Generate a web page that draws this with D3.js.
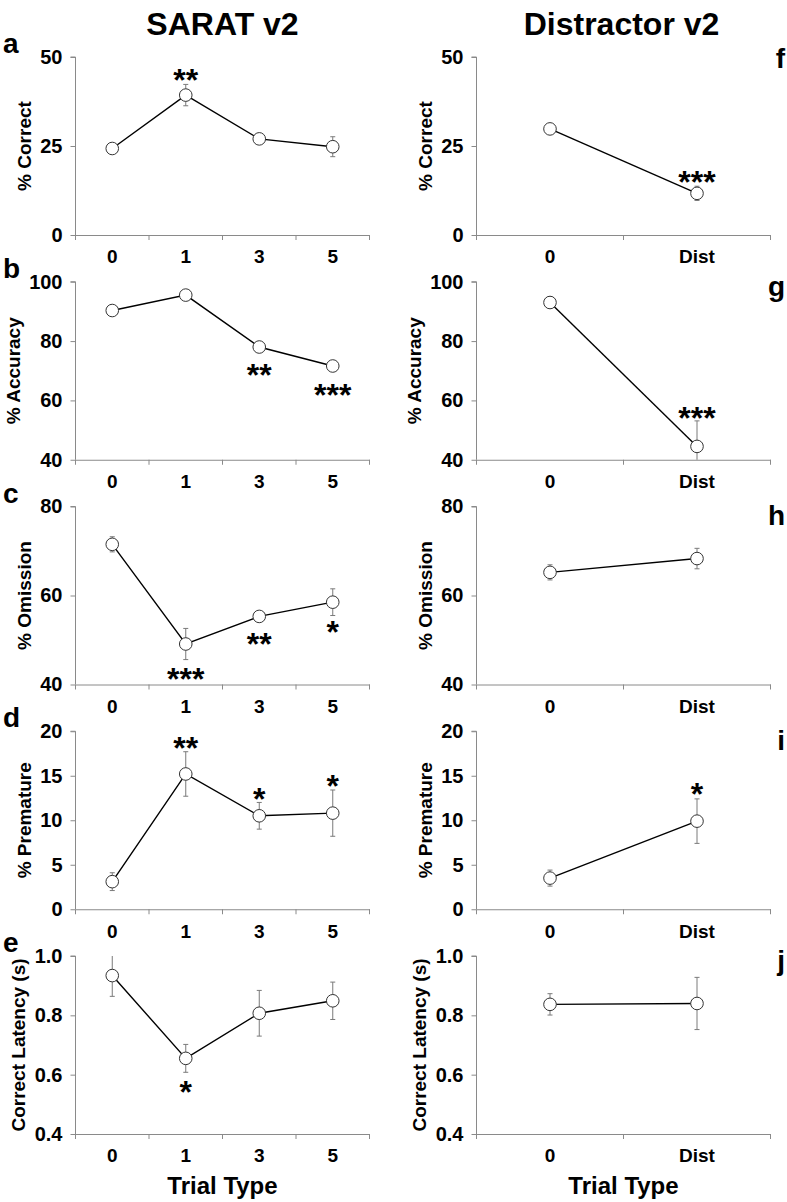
<!DOCTYPE html>
<html>
<head>
<meta charset="utf-8">
<script src="https://cdn.jsdelivr.net/npm/d3@7/dist/d3.min.js"></script>
<style>
  html, body { margin: 0; padding: 0; background: #fff; }
  svg { display: block; font-family: Arial, "Liberation Sans", sans-serif; }
  text { font-weight: bold; fill: #000; }
</style>
</head>
<body>
<svg id="chart" width="787" height="1202"></svg>
<script>
// ---------- data ----------
const saratCats = ["0", "1", "3", "5"];
const distCats = ["0", "Dist"];

const saratCorrect = [24.3, 39.3, 27.0, 24.8];
const saratCorrectErr = [1.0, 3.0, 1.2, 2.8];
const saratAccuracy = [90.3, 95.5, 78.0, 71.6];
const saratAccuracyErr = [1.2, 1.0, 1.5, 1.5];
const saratOmission = [71.5, 49.1, 55.3, 58.5];
const saratOmissionErr = [1.7, 3.5, 1.0, 3.0];
const saratPremature = [3.1, 15.2, 10.5, 10.8];
const saratPrematureErr = [1.0, 2.5, 1.5, 2.6];
const saratLatency = [0.934, 0.655, 0.807, 0.849];
const saratLatencyErr = [0.07, 0.047, 0.077, 0.063];

const distCorrect = [29.8, 11.7];
const distCorrectErr = [0.8, 2.0];
const distAccuracy = [93.0, 44.5];
const distAccuracyErr = [2.0, 8.6];
const distOmission = [65.2, 68.3];
const distOmissionErr = [1.7, 2.3];
const distPremature = [3.5, 9.9];
const distPrematureErr = [0.9, 2.5];
const distLatency = [0.837, 0.840];
const distLatencyErr = [0.036, 0.088];

// significance stars: [category, label, y position in data units]
const saratCorrectStars = [["1", "**", 45.5]];
const saratAccuracyStars = [["3", "**", 71.0], ["5", "***", 64.3]];
const saratOmissionStars = [["1", "***", 42.7], ["3", "**", 50.6], ["5", "*", 53.3]];
const saratPrematureStars = [["1", "**", 18.9], ["3", "*", 13.2], ["5", "*", 14.6]];
const saratLatencyStars = [["1", "*", 0.565]];
const distCorrectStars = [["Dist", "***", 16.9]];
const distAccuracyStars = [["Dist", "***", 56.3]];
const distOmissionStars = [];
const distPrematureStars = [["Dist", "*", 13.7]];
const distLatencyStars = [];

const correctTicks = [0, 25, 50];
const accuracyTicks = [40, 60, 80, 100];
const omissionTicks = [40, 60, 80];
const prematureTicks = [0, 5, 10, 15, 20];
const latencyTicks = [0.4, 0.6, 0.8, 1.0];

const yLabels = ["% Correct", "% Accuracy", "% Omission", "% Premature", "Correct Latency (s)"];
const columnTitles = ["SARAT v2", "Distractor v2"];
const xTitle = "Trial Type";
const leftLetters = ["a", "b", "c", "d", "e"];
const rightLetters = ["f", "g", "h", "i", "j"];

// ---------- layout ----------
const svg = d3.select("#chart");
const rowTop = i => 57 + i * 224.75;
const panelH = 178;
const cols = [{x0: 75.5, x1: 369.5}, {x0: 476.5, x1: 770.5}];
const rightLetterDy = [11, 14, 18, 19, 14];
const FONT = "Arial, 'Liberation Sans', sans-serif";

const rows = [
  {ticks: correctTicks, fmt: d3.format("d"), label: yLabels[0],
   left: [saratCorrect, saratCorrectErr, saratCorrectStars], right: [distCorrect, distCorrectErr, distCorrectStars]},
  {ticks: accuracyTicks, fmt: d3.format("d"), label: yLabels[1],
   left: [saratAccuracy, saratAccuracyErr, saratAccuracyStars], right: [distAccuracy, distAccuracyErr, distAccuracyStars]},
  {ticks: omissionTicks, fmt: d3.format("d"), label: yLabels[2],
   left: [saratOmission, saratOmissionErr, saratOmissionStars], right: [distOmission, distOmissionErr, distOmissionStars]},
  {ticks: prematureTicks, fmt: d3.format("d"), label: yLabels[3],
   left: [saratPremature, saratPrematureErr, saratPrematureStars], right: [distPremature, distPrematureErr, distPrematureStars]},
  {ticks: latencyTicks, fmt: d3.format(".1f"), label: yLabels[4],
   left: [saratLatency, saratLatencyErr, saratLatencyStars], right: [distLatency, distLatencyErr, distLatencyStars]}
];

const axisColor = "#8a8a8a";

function drawPanel(ri, ci) {
  const row = rows[ri];
  const col = cols[ci];
  const cats = ci === 0 ? saratCats : distCats;
  const [vals, errs, stars] = ci === 0 ? row.left : row.right;
  const top = rowTop(ri), bottom = top + panelH;
  const y = d3.scaleLinear().domain(d3.extent(row.ticks)).range([bottom, top]);
  const x = d3.scaleBand().domain(cats).range([col.x0, col.x1]).padding(0);
  const cx = c => x(c) + x.bandwidth() / 2;
  const g = svg.append("g");

  // y axis
  const ya = g.append("g").attr("transform", `translate(${col.x0},0)`)
    .call(d3.axisLeft(y).tickValues(row.ticks).tickFormat(row.fmt).tickSize(5).tickPadding(8));
  ya.select(".domain").attr("stroke", axisColor).attr("d", `M-5,${y(row.ticks[row.ticks.length-1])}H0V${bottom}`);
  ya.selectAll(".tick line").attr("stroke", axisColor);
  ya.selectAll(".tick text").attr("font-size", 20).attr("font-weight", "bold")
    .attr("font-family", FONT).attr("fill", "#000");

  // x axis
  const xa = g.append("g").attr("transform", `translate(0,${bottom})`)
    .call(d3.axisBottom(x).tickSize(0).tickPadding(15));
  xa.select(".domain").attr("stroke", axisColor);
  xa.selectAll(".tick text").attr("font-size", 19).attr("font-weight", "bold")
    .attr("font-family", FONT).attr("fill", "#000");
  const bounds = cats.map(c => x(c)).concat([col.x1]);
  xa.selectAll(".bnd").data(bounds).join("line").attr("class", "bnd")
    .attr("x1", d => d).attr("x2", d => d).attr("y1", 0).attr("y2", 5)
    .attr("stroke", axisColor);

  // y title
  const tickW = d3.max(ya.selectAll(".tick text").nodes(), n => n.getBBox().width);
  const titleX = col.x0 - 13 - tickW - 9;
  g.append("text").attr("transform", `translate(${titleX},${(top + bottom) / 2}) rotate(-90)`)
    .attr("text-anchor", "middle").attr("font-size", 19).text(row.label);

  // error bars
  const [d0, d1] = y.domain();
  const eb = g.append("g").attr("stroke", "#7a7a7a").attr("stroke-width", 1);
  cats.forEach((c, i) => {
    const hi = Math.min(vals[i] + errs[i], d1), lo = Math.max(vals[i] - errs[i], d0);
    eb.append("line").attr("x1", cx(c)).attr("x2", cx(c)).attr("y1", y(hi)).attr("y2", y(lo));
    if (vals[i] + errs[i] <= d1)
      eb.append("line").attr("x1", cx(c) - 2.5).attr("x2", cx(c) + 2.5).attr("y1", y(hi)).attr("y2", y(hi));
    if (vals[i] - errs[i] >= d0)
      eb.append("line").attr("x1", cx(c) - 2.5).attr("x2", cx(c) + 2.5).attr("y1", y(lo)).attr("y2", y(lo));
  });

  // line
  const line = d3.line().x((d, i) => cx(cats[i])).y(d => y(d));
  g.append("path").datum(vals).attr("d", line).attr("fill", "none")
    .attr("stroke", "#000").attr("stroke-width", 1.4);

  // points
  g.selectAll(".pt").data(vals).join("circle").attr("class", "pt")
    .attr("cx", (d, i) => cx(cats[i])).attr("cy", d => y(d)).attr("r", 6.3)
    .attr("fill", "#fff").attr("stroke", "#333").attr("stroke-width", 1);

  // stars
  g.selectAll(".star").data(stars).join("text").attr("class", "star")
    .attr("x", d => cx(d[0])).attr("y", d => y(d[2]) + 18)
    .attr("text-anchor", "middle").attr("font-size", 32).text(d => d[1]);

  // panel letters
  if (ci === 0) {
    g.append("text").attr("x", 3).attr("y", top - 4).attr("font-size", 28).text(leftLetters[ri]);
  } else {
    g.append("text").attr("x", 785).attr("y", top + rightLetterDy[ri]).attr("text-anchor", "end")
      .attr("font-size", 28).text(rightLetters[ri]);
  }

  if (ri === rows.length - 1) {
    g.append("text").attr("x", (col.x0 + col.x1) / 2).attr("y", bottom + 60)
      .attr("text-anchor", "middle").attr("font-size", 24).text(xTitle);
  }
}

for (let ri = 0; ri < rows.length; ri++) {
  drawPanel(ri, 0);
  drawPanel(ri, 1);
}

svg.selectAll(".coltitle").data(columnTitles).join("text").attr("class", "coltitle")
  .attr("x", (d, i) => (cols[i].x0 + cols[i].x1) / 2 + (i === 0 ? 0 : -2))
  .attr("y", 35).attr("text-anchor", "middle").attr("font-size", 32).text(d => d);
</script>
</body>
</html>
